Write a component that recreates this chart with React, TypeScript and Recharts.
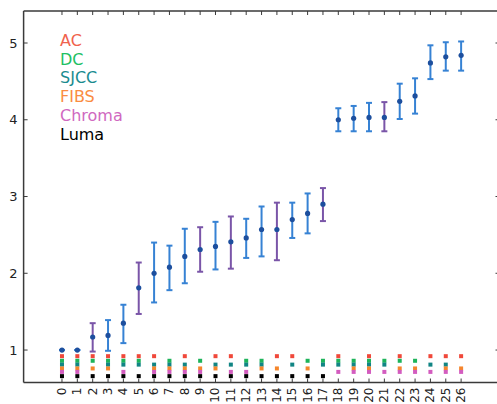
import React from "react"
import { ScatterChart, Scatter, XAxis, YAxis, ErrorBar } from "recharts"

// x categories 0..26
const categories = [
  0, 1, 2, 3, 4, 5, 6, 7, 8, 9, 10, 11, 12, 13, 14, 15, 16, 17, 18, 19, 20, 21,
  22, 23, 24, 25, 26,
]
const meanValues = [
  1.0, 1.0, 1.17, 1.19, 1.35, 1.81, 2.0, 2.08, 2.22, 2.31, 2.35, 2.41, 2.46,
  2.57, 2.57, 2.7, 2.78, 2.9, 4.0, 4.02, 4.03, 4.03, 4.24, 4.31, 4.74, 4.82,
  4.84,
]
const upperValues = [
  1.0, 1.0, 1.35, 1.39, 1.59, 2.14, 2.4, 2.36, 2.58, 2.6, 2.67, 2.74, 2.71,
  2.87, 2.92, 2.92, 3.04, 3.11, 4.15, 4.18, 4.22, 4.23, 4.47, 4.54, 4.97, 5.01,
  5.02,
]
const lowerValues = [
  1.0, 1.0, 0.98, 0.99, 1.09, 1.47, 1.62, 1.78, 1.87, 2.02, 2.05, 2.06, 2.2,
  2.22, 2.17, 2.46, 2.52, 2.68, 3.85, 3.85, 3.85, 3.85, 4.01, 4.08, 4.53, 4.64,
  4.64,
]
const purpleBars = [2, 5, 9, 11, 14, 17, 21]

// which categories each method shows a marker for
const acCats = [0, 1, 2, 3, 4, 5, 6, 8, 10, 11, 14, 15, 18, 20, 22, 24, 25, 26]
const dcCats = [0, 1, 2, 3, 4, 5, 7, 9, 12, 13, 16, 17, 18, 19, 20, 21, 22, 23]
const sjccCats = [
  0, 1, 3, 4, 5, 6, 7, 8, 10, 11, 12, 13, 15, 17, 18, 19, 20, 21, 24, 25,
]
const fibsCats = [0, 1, 2, 3, 6, 7, 8, 9, 10, 13, 14, 16, 19, 20, 22, 23, 25, 26]
const chromaCats = [
  0, 1, 4, 6, 7, 8, 9, 11, 12, 18, 19, 20, 21, 22, 23, 24, 25, 26,
]
const lumaCats = [0, 1, 2, 3, 4, 5, 6, 7, 8, 9, 10, 11, 12, 13, 14, 15, 16, 17]

const methods = [
  { name: "AC", level: 0.92, cats: acCats, color: "#f0483a", text: "#f0624d" },
  { name: "DC", level: 0.86, cats: dcCats, color: "#1db45a", text: "#21c063" },
  { name: "SJCC", level: 0.81, cats: sjccCats, color: "#118584", text: "#1a8b8f" },
  { name: "FIBS", level: 0.76, cats: fibsCats, color: "#f5862c", text: "#fa8c42" },
  { name: "Chroma", level: 0.715, cats: chromaCats, color: "#d35cbf", text: "#d068c0" },
  { name: "Luma", level: 0.66, cats: lumaCats, color: "#000000", text: "#000000" },
]

const yTicks = [1, 2, 3, 4, 5]

const mainRows = categories.map((c, i) => ({
  x: c,
  y: meanValues[i],
  err: [meanValues[i] - lowerValues[i], upperValues[i] - meanValues[i]],
}))
const blueRows = mainRows.filter((r) => !purpleBars.includes(r.x))
const purpleRows = mainRows.filter((r) => purpleBars.includes(r.x))

const axisColor = "#3a3a3a"
const font = "DejaVu Sans"

const Dot = (props: any) => (
  <circle cx={props.cx} cy={props.cy} r={2.6} fill="#1d4f9e" />
)

const squareShape = (color: string) => (props: any) => (
  <rect x={props.cx - 2} y={props.cy - 2} width={4} height={4} fill={color} />
)

const BottomTick = (props: any) => {
  const { x, y, payload } = props
  return (
    <g>
      <line x1={x} x2={x} y1={y - 5} y2={y - 9} stroke={axisColor} />
      <text
        x={x}
        y={y}
        transform={`rotate(-90, ${x}, ${y})`}
        textAnchor="end"
        dominantBaseline="central"
        fontSize={12}
        fontFamily={font}
        fill="#222"
      >
        {payload.value}
      </text>
    </g>
  )
}

const TopTick = (props: any) => {
  const { x, y } = props
  return <line x1={x} x2={x} y1={y} y2={y + 4} stroke={axisColor} />
}

const LeftTick = (props: any) => {
  const { x, y, payload } = props
  return (
    <g>
      <line x1={x + 6} x2={x + 10} y1={y} y2={y} stroke={axisColor} />
      <text
        x={x}
        y={y}
        textAnchor="end"
        dominantBaseline="central"
        fontSize={13}
        fontFamily={font}
        fill="#222"
      >
        {payload.value}
      </text>
    </g>
  )
}

const RightTick = (props: any) => {
  const { x, y } = props
  return <line x1={x - 4} x2={x} y1={y} y2={y} stroke={axisColor} />
}

export default function App() {
  return (
    <div
      style={{
        position: "absolute",
        left: 0,
        top: 0,
        width: 497,
        height: 404,
        overflow: "hidden",
        background: "#fff",
      }}
    >
      <ScatterChart
        width={502}
        height={404}
        margin={{ top: 0, right: 0, left: 0, bottom: 0 }}
      >
        <XAxis
          type="number"
          dataKey="x"
          domain={[-2.5, 28.5]}
          ticks={categories}
          interval={0}
          height={21.5}
          tickSize={0}
          tickMargin={5}
          tickLine={false}
          tick={<BottomTick />}
          axisLine={{ stroke: axisColor, strokeWidth: 1.5 }}
          allowDataOverflow
        />
        <XAxis
          xAxisId="top"
          orientation="top"
          type="number"
          dataKey="x"
          domain={[-2.5, 28.5]}
          ticks={categories}
          interval={0}
          height={11}
          tickSize={0}
          tickMargin={0}
          tickLine={false}
          tick={<TopTick />}
          axisLine={{ stroke: axisColor, strokeWidth: 1.5 }}
          allowDataOverflow
        />
        <YAxis
          type="number"
          dataKey="y"
          domain={[0.577, 5.417]}
          ticks={yTicks}
          width={23.6}
          tickSize={0}
          tickMargin={6}
          tickLine={false}
          tick={<LeftTick />}
          axisLine={{ stroke: axisColor, strokeWidth: 1.5 }}
          allowDataOverflow
        />
        <YAxis
          yAxisId="right"
          orientation="right"
          type="number"
          domain={[0.577, 5.417]}
          ticks={yTicks}
          width={2.5}
          tickSize={0}
          tickMargin={0}
          tickLine={false}
          tick={<RightTick />}
          axisLine={{ stroke: axisColor, strokeWidth: 1.5 }}
          allowDataOverflow
        />
        {methods.map((m) => (
          <Scatter
            key={m.name}
            name={m.name}
            data={m.cats.map((c) => ({ x: c, y: m.level }))}
            shape={squareShape(m.color)}
            isAnimationActive={false}
          />
        ))}
        <Scatter
          name="mean"
          data={blueRows}
          shape={<Dot />}
          isAnimationActive={false}
        >
          <ErrorBar
            dataKey="err"
            direction="y"
            width={3}
            strokeWidth={2}
            stroke="#3682d4"
          />
        </Scatter>
        <Scatter
          name="mean2"
          data={purpleRows}
          shape={<Dot />}
          isAnimationActive={false}
        >
          <ErrorBar
            dataKey="err"
            direction="y"
            width={3}
            strokeWidth={2}
            stroke="#7a55a8"
          />
        </Scatter>
      </ScatterChart>
      <div
        style={{
          position: "absolute",
          left: 60,
          top: 32,
          fontFamily: font,
          fontSize: 16,
          lineHeight: "18.7px",
        }}
      >
        {methods.map((m) => (
          <div key={m.name} style={{ color: m.text }}>
            {m.name}
          </div>
        ))}
      </div>
    </div>
  )
}
